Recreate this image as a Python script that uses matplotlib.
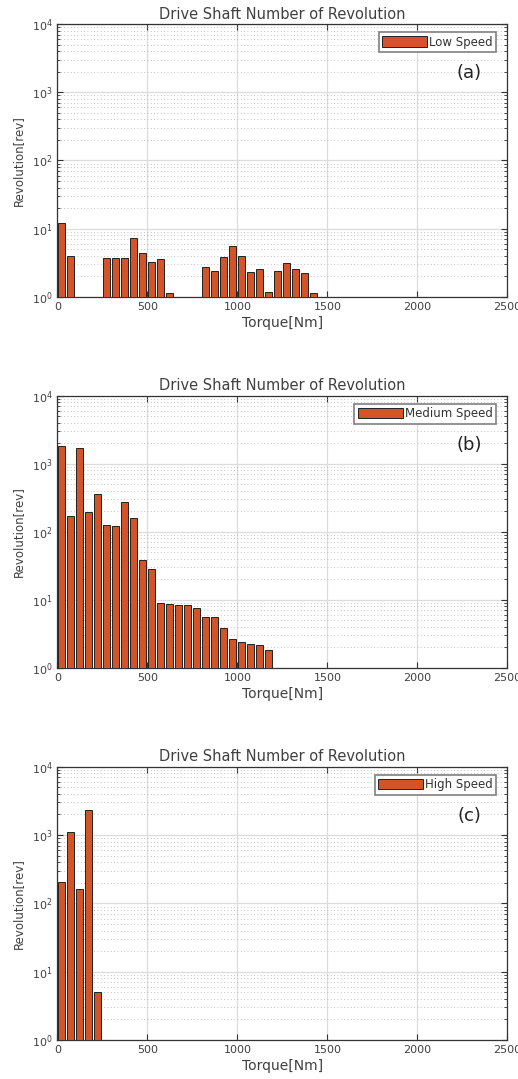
import numpy as np
import matplotlib
matplotlib.use('Agg')
from matplotlib import pyplot as plt
from matplotlib.ticker import MultipleLocator, LogLocator, NullFormatter, NullLocator

plt.rcParams['font.family'] = ['DejaVu Sans']

# torque histogram, 50 Nm bins starting at 0
bin_width = 50
low_speed = [12.2, 3.9, 0, 0, 0, 3.75, 3.7, 3.7, 7.2, 4.4, 3.2, 3.55, 1.15,
             0, 0, 0, 2.75, 2.35, 3.85, 5.5, 4.0, 2.33, 2.58, 1.19, 2.38,
             3.1, 2.58, 2.2, 1.13]
medium_speed = [1820, 168, 1700, 195, 354, 124, 121, 273, 159, 38.7, 28.6,
                8.9, 8.6, 8.3, 8.3, 7.5, 5.6, 5.5, 3.85, 2.6, 2.38, 2.25,
                2.15, 1.82]
high_speed = [203, 1120, 162, 2300, 5.0]

series = [('Low Speed', low_speed, '(a)'),
          ('Medium Speed', medium_speed, '(b)'),
          ('High Speed', high_speed, '(c)')]

bar_color = '#D4542A'
txt_color = '#404040'
axes_pos = [[0.1107, 0.7250, 0.8687, 0.2527],
            [0.1107, 0.3812, 0.8687, 0.2520],
            [0.1107, 0.0361, 0.8687, 0.2533]]

fig = plt.figure(figsize=(5.18, 10.79), dpi=100)

for (name, vals, tag), pos in zip(series, axes_pos):
    ax = fig.add_axes(pos)
    centers = bin_width / 2 + bin_width * np.arange(len(vals))
    ax.bar(centers, vals, width=bin_width * 0.8, color=bar_color,
           edgecolor='#222222', linewidth=0.7, label=name, zorder=3)
    ax.set_yscale('log')
    ax.set_xlim(0, 2500)
    ax.set_ylim(1, 1e4)

    ax.xaxis.set_major_locator(MultipleLocator(500))
    ax.xaxis.set_minor_locator(NullLocator())
    ax.yaxis.set_major_locator(LogLocator(base=10, numticks=10))
    ax.yaxis.set_minor_locator(LogLocator(base=10, subs=np.arange(2, 10), numticks=20))
    ax.yaxis.set_minor_formatter(NullFormatter())

    ax.grid(True, which='major', color='#dcdcdc', linewidth=0.9, zorder=0)
    ax.yaxis.grid(True, which='minor', color='#b0b0b0', linestyle=(0, (1, 3)),
                  linewidth=0.6, zorder=0)
    ax.set_axisbelow(True)

    ax.tick_params(which='both', direction='in', top=True, right=True,
                   colors='#333333', labelcolor=txt_color, labelsize=8)
    ax.tick_params(which='major', length=4)
    ax.tick_params(which='minor', length=2)
    for s in ax.spines.values():
        s.set_color('#333333')
        s.set_linewidth(0.9)

    ax.set_title('Drive Shaft Number of Revolution', fontsize=10.5,
                 color=txt_color, pad=4)
    ax.set_xlabel('Torque[Nm]', fontsize=10, color=txt_color, labelpad=3)
    ax.set_ylabel('Revolution[rev]', fontsize=8.5, color=txt_color, labelpad=5)

    leg = ax.legend(loc='upper right', bbox_to_anchor=(0.975, 0.971),
                    fontsize=8.5, handlelength=3.8, handleheight=1.0,
                    handletextpad=0.15, borderpad=0.3, borderaxespad=0,
                    fancybox=False, framealpha=1)
    leg.get_frame().set_edgecolor('#808080')
    leg.get_frame().set_linewidth(1.2)
    for t in leg.get_texts():
        t.set_color('#333333')

    ax.text(0.915, 0.82, tag, transform=ax.transAxes, fontsize=13,
            color='#222222', ha='center', va='center')

fig.savefig('out.png', dpi=100)
